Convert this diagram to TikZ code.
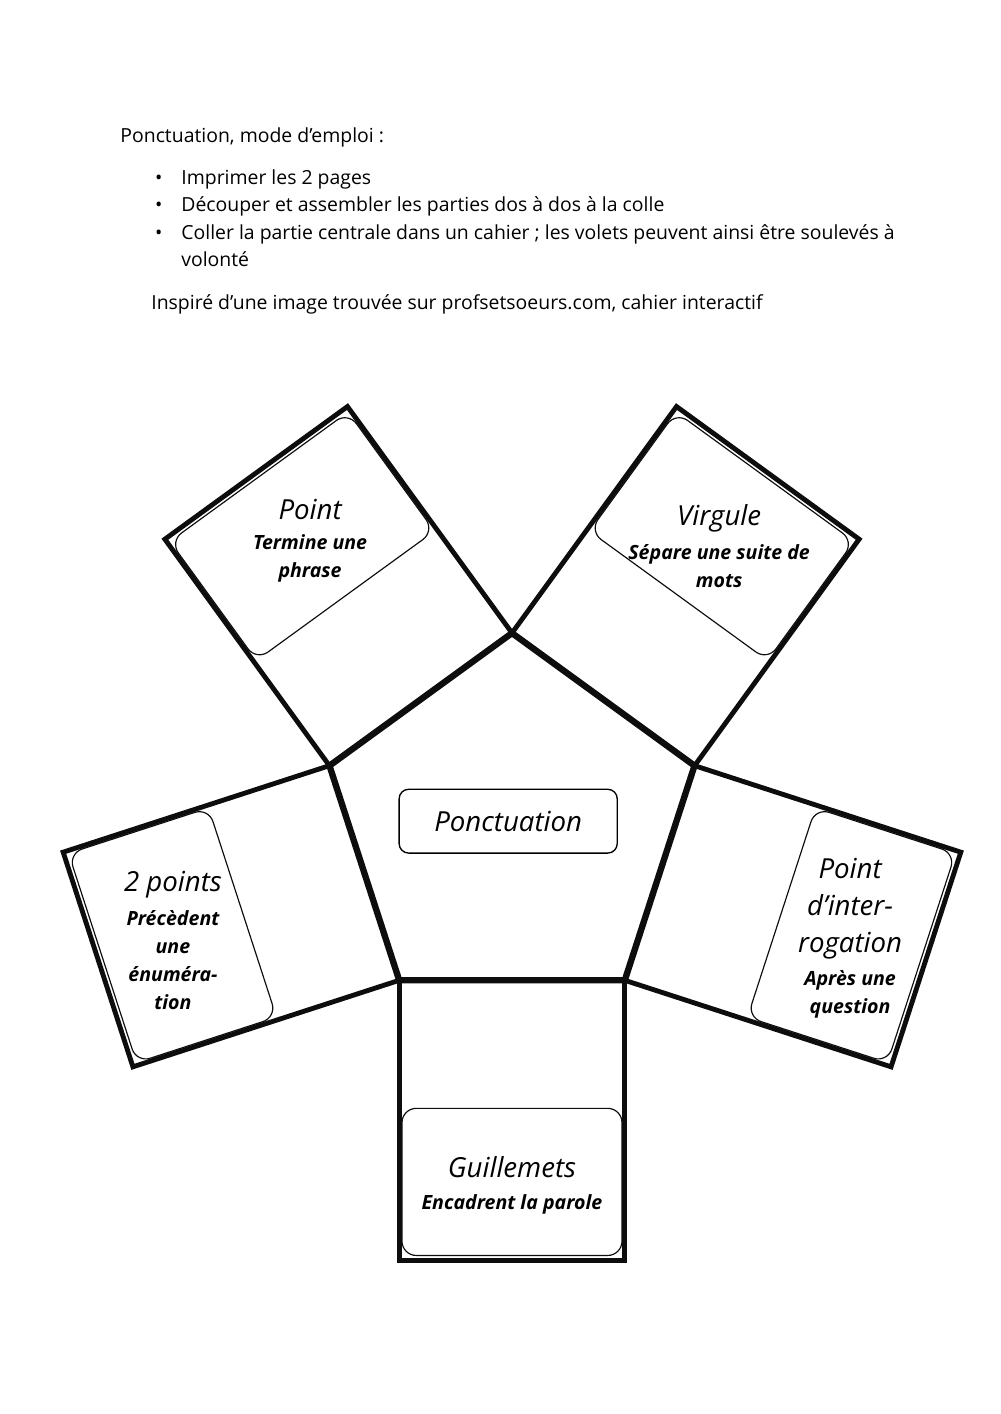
\documentclass[tikz,border=0pt]{standalone}
\usepackage{fontspec}
\setmainfont{Open Sans}
\usetikzlibrary{calc, positioning}
\definecolor{mainBlack}{gray}{0.05}

\newcommand{\rayon}{4.03}  % pentagon radius
\newcommand{\apo}{3.26}    % pentagon apothem
% one flap on the side whose outer normal points at #1 degrees
\newcommand{\volet}[1]{%
  \begin{scope}[shift={(#1:\apo)}, rotate=#1-90]
    \draw[flapLine] (-2.37,0) -- (-2.37,5.88) -- (2.37,5.88) -- (2.37,0);
    \draw[cardLine] (-2.31,2.69) rectangle (2.31,5.78);
  \end{scope}}

\tikzset{
  flapLine/.style={line width=2.9pt, mainBlack},
  cardLine/.style={line width=0.7pt, mainBlack, rounded corners=0.3cm},
  pentaLine/.style={line width=3.8pt, mainBlack},
  titre/.style={font=\fontsize{16.5}{22.3}\selectfont\itshape, align=center, inner sep=0pt},
  legende/.style={font=\fontsize{11.7}{16.7}\selectfont\bfseries\itshape, align=center, inner sep=0pt},
  consigne/.style={font=\fontsize{11.6}{13}\selectfont, anchor=base west, inner sep=0pt},
}

\begin{document}
\begin{tikzpicture}
    \useasboundingbox (-10.752,17.325) rectangle (10.248,-12.369);

    % header
    \node[consigne] (entete) at (-8.23,14.34) {Ponctuation, mode d’emploi :};
    \node[consigne] (puce1) at (-7.50,13.46) {•};
    \node[consigne] (item1) at (-6.95,13.46) {Imprimer les 2 pages};
    \node[consigne] (puce2) at (-7.50,12.88) {•};
    \node[consigne] (item2) at (-6.95,12.88) {Découper et assembler les parties dos à dos à la colle};
    \node[consigne] (puce3) at (-7.50,12.29) {•};
    \node[consigne] (item3) at (-6.95,12.29) {Coller la partie centrale dans un cahier ; les volets peuvent ainsi être soulevés à};
    \node[consigne] (item3b) at (-6.95,11.73) {volonté};
    \node[consigne] (source) at (-7.58,10.83) {Inspiré d’une image trouvée sur profsetsoeurs.com, cahier interactif};

    % flaps
    \volet{126}
    \volet{54}
    \volet{-18}
    \volet{-90}
    \volet{198}

    % central pentagon
    \coordinate (S1) at (90:\rayon);
    \coordinate (S2) at (18:\rayon);
    \coordinate (S3) at (-54:\rayon);
    \coordinate (S4) at (-126:\rayon);
    \coordinate (S5) at (162:\rayon);
    \draw[pentaLine] (S1) -- (S2) -- (S3) -- (S4) -- (S5) -- cycle;

    \node[draw, line width=0.8pt, rounded corners=0.2cm, minimum width=4.58cm, minimum height=1.34cm,
          font=\fontsize{16.5}{22.3}\selectfont\itshape] (centre) at (-0.08,0.08) {Ponctuation};

    % flap texts
    \node[titre] (tPoint) at (-4.24,6.62) {Point};
    \node[legende] (lPoint) at (-4.24,5.59) {Termine une\\phrase};
    \node[titre] (tVirgule) at (4.35,6.44) {Virgule};
    \node[legende] (lVirgule) at (4.35,5.43) {Sépare une suite de\\mots};
    \node[titre] (tDeux) at (-7.12,-1.25) {2 points};
    \node[legende] (lDeux) at (-7.12,-2.83) {Précèdent\\une\\énuméra-\\tion};
    \node[titre] (tInterro) at (7.10,-1.76) {Point\\d’inter-\\rogation};
    \node[legende] (lInterro) at (7.10,-3.55) {Après une\\question};
    \node[titre] (tGuill) at (0,-7.19) {Guillemets};
    \node[legende] (lGuill) at (0,-7.96) {Encadrent la parole};
\end{tikzpicture}
\end{document}
